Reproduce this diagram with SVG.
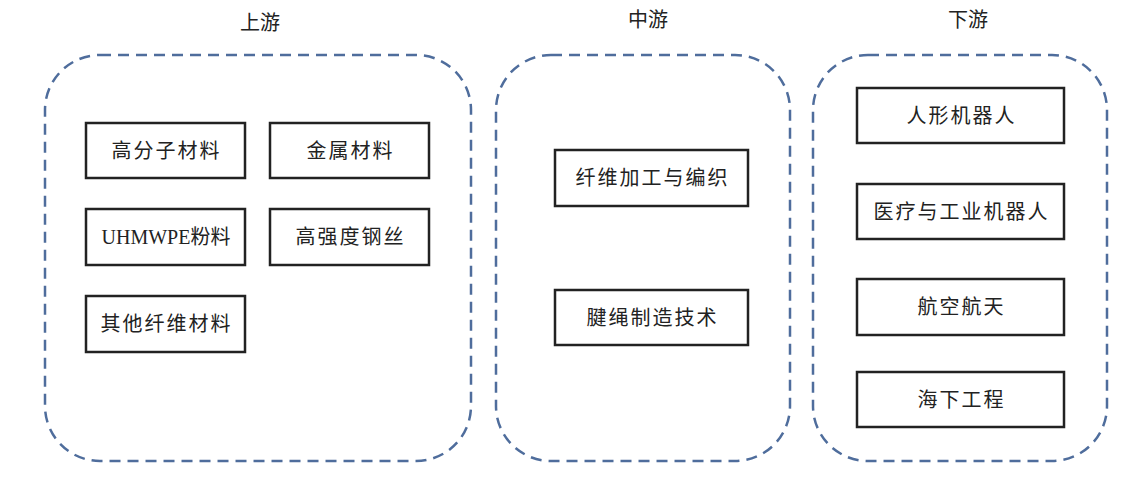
<svg xmlns="http://www.w3.org/2000/svg" width="1136" height="486" viewBox="0 0 1136 486">
<style>
.grp{fill:none;stroke:#4f6d9c;stroke-width:2.5;stroke-dasharray:11 7}
.box{fill:#fff;stroke:#222;stroke-width:2.5}
.t{font-family:"Liberation Serif","Noto Sans CJK SC",serif;font-size:20px;fill:#222;text-anchor:middle;dominant-baseline:central;letter-spacing:2px}
.h{font-family:"Noto Sans CJK SC",sans-serif;font-size:20px;fill:#222;text-anchor:middle;dominant-baseline:central}
</style>
<rect width="1136" height="486" fill="#fff"/>
<g id="upstream">
<text class="h" x="260" y="21">上游</text>
<rect class="grp" x="45" y="55" width="426" height="406" rx="55"/>
</g>
<g id="midstream">
<text class="h" x="648" y="18">中游</text>
<rect class="grp" x="496" y="55" width="294" height="406" rx="55"/>
</g>
<g id="downstream">
<text class="h" x="968" y="18">下游</text>
<rect class="grp" x="813" y="55" width="294" height="406" rx="55"/>
</g>
<g id="n1"><rect class="box" x="86" y="123" width="159" height="55"/><text class="t" x="166.5" y="151">高分子材料</text></g>
<g id="n2"><rect class="box" x="270" y="123" width="159" height="55"/><text class="t" x="350.5" y="151">金属材料</text></g>
<g id="n3"><rect class="box" x="86" y="209" width="159" height="56"/><text class="t" x="166" y="237" style="letter-spacing:0">UHMWPE粉料</text></g>
<g id="n4"><rect class="box" x="270" y="209" width="159" height="56"/><text class="t" x="350.5" y="237">高强度钢丝</text></g>
<g id="n5"><rect class="box" x="86" y="296" width="159" height="56"/><text class="t" x="166.5" y="324">其他纤维材料</text></g>
<g id="n6"><rect class="box" x="555" y="150" width="193" height="56"/><text class="t" x="652.5" y="178">纤维加工与编织</text></g>
<g id="n7"><rect class="box" x="555" y="290" width="193" height="55"/><text class="t" x="652.5" y="318">腱绳制造技术</text></g>
<g id="n8"><rect class="box" x="857" y="88" width="207" height="55"/><text class="t" x="961.5" y="116">人形机器人</text></g>
<g id="n9"><rect class="box" x="857" y="184" width="207" height="55"/><text class="t" x="961.5" y="212">医疗与工业机器人</text></g>
<g id="n10"><rect class="box" x="857" y="279" width="207" height="56"/><text class="t" x="961.5" y="307">航空航天</text></g>
<g id="n11"><rect class="box" x="857" y="372" width="207" height="55"/><text class="t" x="961.5" y="400">海下工程</text></g>
<g id="connectors"></g>
</svg>
